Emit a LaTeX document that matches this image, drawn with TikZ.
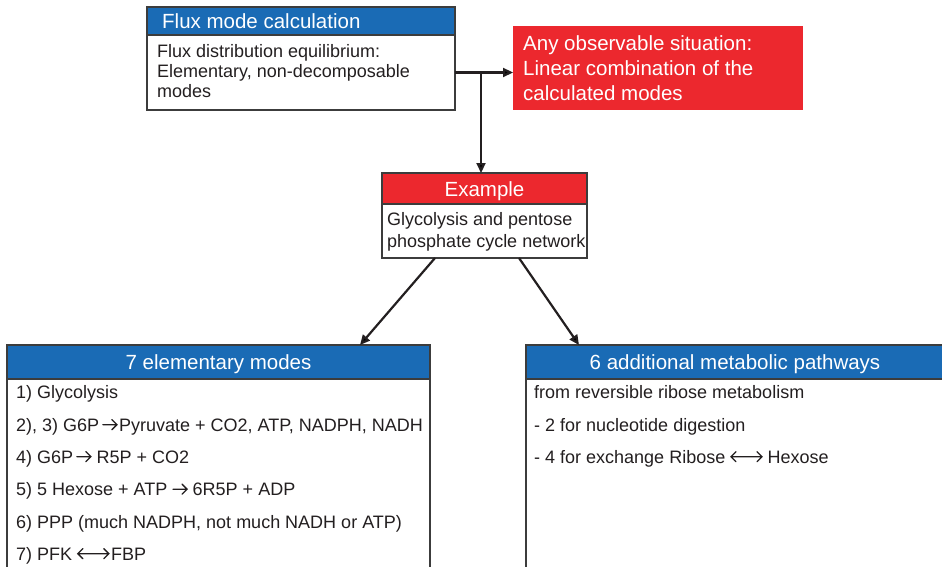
\documentclass[tikz,border=0pt]{standalone}
\usepackage{fontspec}
\setmainfont{Liberation Sans}
\usetikzlibrary{arrows.meta}
\definecolor{hblue}{RGB}{26,107,181}
\definecolor{hred}{RGB}{236,40,46}
\definecolor{ink}{RGB}{35,31,32}
\definecolor{frame}{RGB}{60,60,60}
\newcommand{\ra}{\tikz[baseline=-6.3pt, x=1pt, y=1pt]{\draw[draw=ink, line width=1.3pt, line cap=round, line join=miter] (0,0) -- (14,0) (9,-5) -- (14,0) -- (9,5);}}
\newcommand{\lra}{\tikz[baseline=-6.3pt, x=1pt, y=1pt]{\draw[draw=ink, line width=1.3pt, line cap=round, line join=miter] (5,-5) -- (0,0) -- (5,5) (0,0) -- (31,0) (26,-5) -- (31,0) -- (26,5);}}
\begin{document}
\begin{tikzpicture}[x=1pt,y=-1pt,
  boxframe/.style={draw=frame, line width=1.3pt, anchor=north west, inner sep=0pt, outer sep=0pt},
  hdrtext/.style={text=white, font=\fontsize{20.5}{24}\selectfont, inner sep=0pt},
  bodytext/.style={text=ink, font=\fontsize{18}{21}\selectfont, inner sep=0pt, anchor=base west},
  conn/.style={draw=ink, line width=2.2pt, -{Triangle[length=10pt,width=9pt]}},
]
\useasboundingbox (0,0) rectangle (942,567);

% Top box
\node[boxframe, fill=hblue, minimum width=308pt, minimum height=28pt] (fluxh) at (147,7) {};
\node[boxframe, fill=white, minimum width=308pt, minimum height=75pt] (fluxb) at (147,35) {};
\node[hdrtext, anchor=base west] (fluxht) at (162,28.5) {Flux mode calculation};
\node[bodytext] (fl1) at (157,58) {Flux distribution equilibrium:};
\node[bodytext] (fl2) at (157,78) {Elementary, non-decomposable};
\node[bodytext] (fl3) at (157,98) {modes};

% Red box
\node[anchor=north west, fill=hred, inner sep=0pt, minimum width=290pt, minimum height=84pt] (obs) at (513,26) {};
\node[hdrtext, anchor=base west] (ob1) at (523,51) {Any observable situation:};
\node[hdrtext, anchor=base west] (ob2) at (523,76) {Linear combination of the};
\node[hdrtext, anchor=base west] (ob3) at (523,101) {calculated modes};

% Example box
\node[boxframe, fill=hred, minimum width=205pt, minimum height=31pt] (exh) at (382,173) {};
\node[boxframe, fill=white, minimum width=205pt, minimum height=54pt] (exb) at (382,204) {};
\node[hdrtext, anchor=base] (exht) at (484.5,196) {Example};
\node[bodytext] (ex1) at (387,225) {Glycolysis and pentose};
\node[bodytext] (ex2) at (387,247) {phosphate cycle network};

% Left bottom box
\node[boxframe, fill=hblue, minimum width=423pt, minimum height=34pt] (lh) at (7,345) {};
\node[boxframe, fill=white, minimum width=423pt, minimum height=240pt] (lb) at (7,379) {};
\node[hdrtext, anchor=base] (lht) at (218.5,369) {7 elementary modes};
\node[bodytext] (l1) at (16,398) {1) Glycolysis};
\node[bodytext] (l2) at (16,431) {2), 3) G6P\kern3pt\ra\kern1.5pt Pyruvate + CO2, ATP, NADPH, NADH};
\node[bodytext] (l3) at (16,463) {4) G6P\kern3pt\ra{} R5P + CO2};
\node[bodytext] (l4) at (16,495.5) {5) 5 Hexose + ATP \ra{} 6R5P + ADP};
\node[bodytext] (l5) at (16,528) {6) PPP (much NADPH, not much NADH or ATP)};
\node[bodytext] (l6) at (16,560) {7) PFK \lra\kern1.5pt FBP};

% Right bottom box
\node[boxframe, fill=hblue, minimum width=420pt, minimum height=34pt] (rh) at (526,345) {};
\node[boxframe, fill=white, minimum width=420pt, minimum height=240pt] (rb) at (526,379) {};
\node[hdrtext, anchor=base] (rht) at (735,369) {6 additional metabolic pathways};
\node[bodytext] (r1) at (534,398) {from reversible ribose metabolism};
\node[bodytext] (r2) at (534,431) {- 2 for nucleotide digestion};
\node[bodytext] (r3) at (534,463) {- 4 for exchange Ribose \lra{} Hexose};

% Connectors
\coordinate (jx) at (481,0);
\coordinate (j) at (fluxb.east -| jx);
\draw[conn] (fluxb.east) -- (fluxb.east -| obs.west);
\draw[conn] (j) -- (j |- exh.north);
\coordinate (s1x) at (435,0);
\coordinate (s2x) at (519,0);
\coordinate (e1x) at (360,0);
\coordinate (e2x) at (579,0);
\draw[conn] (exb.south -| s1x) -- (lh.north -| e1x);
\draw[conn] (exb.south -| s2x) -- (rh.north -| e2x);
\end{tikzpicture}
\end{document}
